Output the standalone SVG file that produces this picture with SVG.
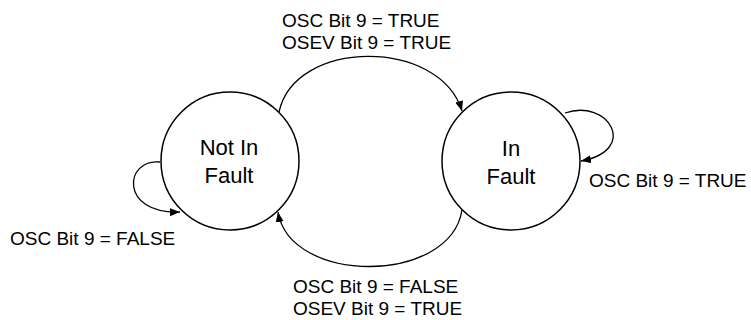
<svg xmlns="http://www.w3.org/2000/svg" width="751" height="320" viewBox="0 0 751 320">
<defs>
<style>
.node{fill:#fff;stroke:#000;stroke-width:1.5}
.edge{fill:none;stroke:#000;stroke-width:1.3}
text{font-family:"Liberation Sans",Arial,sans-serif;fill:#000}
.nt{font-size:22px;text-anchor:middle}
.lb{font-size:19px}
</style>
<marker id="arr" markerUnits="userSpaceOnUse" markerWidth="12" markerHeight="10" refX="10" refY="4" orient="auto">
<path d="M0,0 L10,4 L0,8 Z" fill="#000"/>
</marker>
</defs>
<g id="connectors">
<path class="edge" d="M279,112 C295,38 440,38 462,111" marker-end="url(#arr)"/>
<path class="edge" d="M462,210 C450,285 290,285 278,212" marker-end="url(#arr)"/>
<path class="edge" d="M160,162 C125,158 118,214 180,212" marker-end="url(#arr)"/>
<path class="edge" d="M565,113 C608,98 640,150 581,161" marker-end="url(#arr)"/>
</g>
<g id="node-not-in-fault">
<circle class="node" cx="230" cy="161" r="69"/>
<text class="nt" x="229" y="155">Not In</text>
<text class="nt" x="229" y="183">Fault</text>
</g>
<g id="node-in-fault">
<circle class="node" cx="511" cy="161" r="69"/>
<text class="nt" x="511" y="156">In</text>
<text class="nt" x="511" y="184">Fault</text>
</g>
<g id="labels">
<text class="lb" x="282" y="27">OSC Bit 9 = TRUE</text>
<text class="lb" x="282" y="49">OSEV Bit 9 = TRUE</text>
<text class="lb" x="293" y="293">OSC Bit 9 = FALSE</text>
<text class="lb" x="293" y="315">OSEV Bit 9 = TRUE</text>
<text class="lb" x="10" y="245">OSC Bit 9 = FALSE</text>
<text class="lb" x="589" y="187">OSC Bit 9 = TRUE</text>
</g>
</svg>
